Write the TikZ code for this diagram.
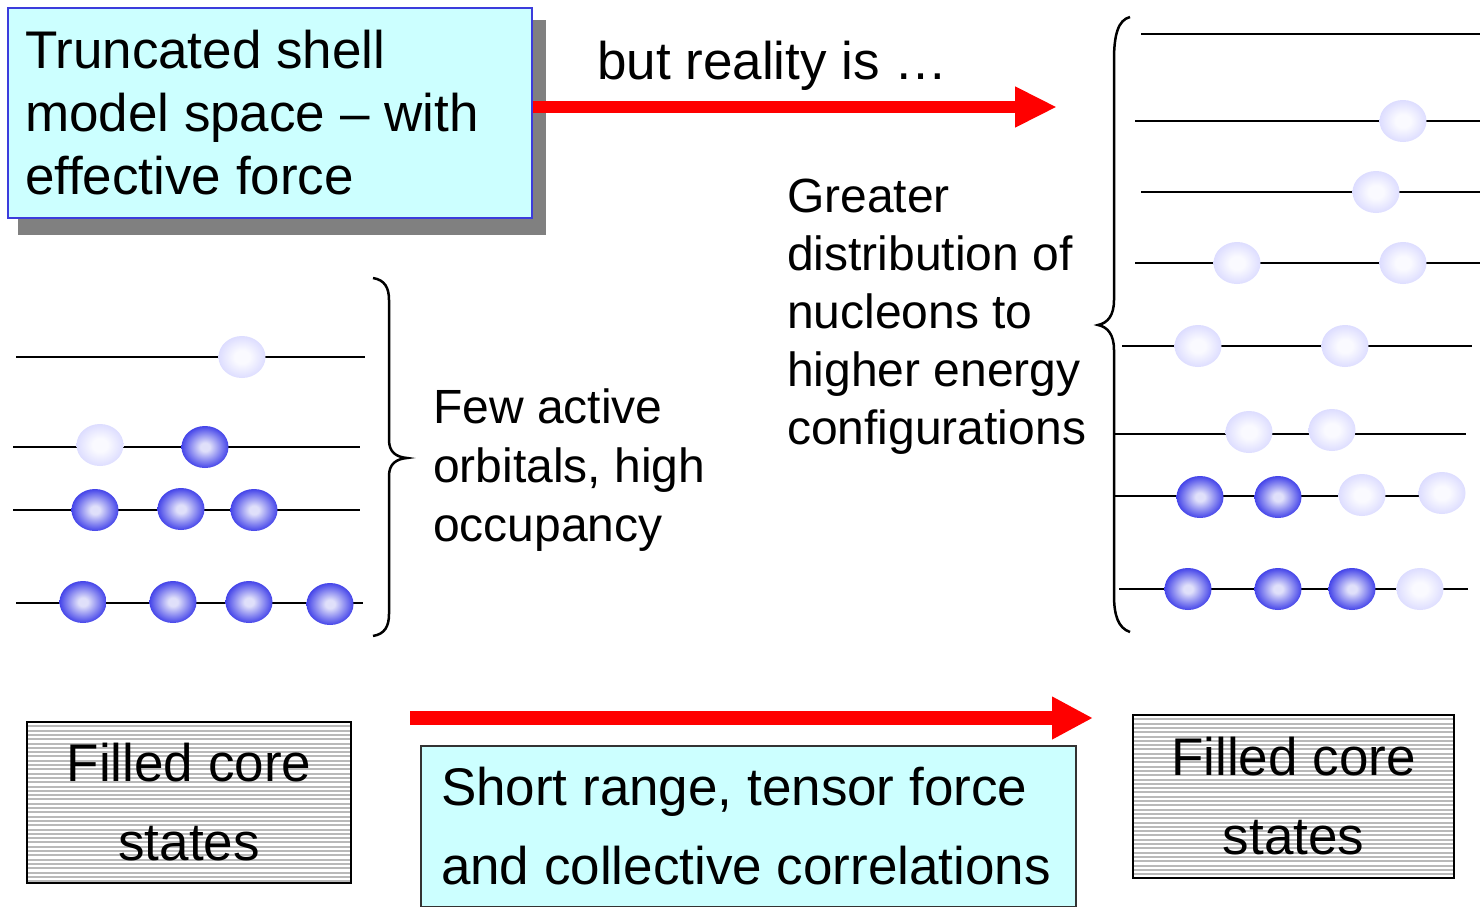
\documentclass[tikz,border=0pt]{standalone}
\usepackage{fontspec}
\setmainfont{Liberation Sans}
\usetikzlibrary{arrows.meta,shapes.geometric}
\definecolor{boxcyan}{RGB}{204,255,255}
\definecolor{boxblue}{RGB}{60,60,220}
\definecolor{shadowgray}{RGB}{128,128,128}
\definecolor{ballin}{RGB}{224,224,250}
\definecolor{ballout}{RGB}{22,22,228}
\definecolor{lightin}{RGB}{250,250,255}
\definecolor{lightout}{RGB}{192,192,255}
\definecolor{arrowred}{RGB}{255,0,0}
\pgfdeclareradialshading{darkballshade}{\pgfpoint{0bp}{0bp}}{color(0bp)=(ballin); color(5bp)=(ballin); color(31bp)=(ballout); color(50bp)=(ballout)}
\pgfdeclareradialshading{lightballshade}{\pgfpoint{0bp}{0bp}}{color(0bp)=(lightin); color(8bp)=(lightin); color(42bp)=(lightout); color(50bp)=(lightout)}
\tikzset{
  level/.style={line width=2.8pt, black},
  dball/.style={ellipse, minimum width=47pt, minimum height=42pt, inner sep=0pt, shading=darkballshade},
  lball/.style={ellipse, minimum width=47pt, minimum height=42pt, inner sep=0pt, shading=lightballshade},
  bracepath/.style={line width=2.5pt, black},
  redarrow/.style={arrowred, line width=12pt, -{Triangle[length=42pt,width=38pt]}},
  plaintext/.style={inner sep=0pt, align=left, anchor=north west},
  corebox/.style={draw=black, line width=2.5pt, inner sep=0pt, align=center,
    font=\fontsize{53}{79}\selectfont,
    path picture={\foreach \k in {0,...,40}
      \draw[gray!55, line width=2pt] ([yshift=-\k*4.3pt]path picture bounding box.north west) -- ([yshift=-\k*4.3pt]path picture bounding box.north east);}},
}
\begin{document}
\begin{tikzpicture}[x=1pt,y=-1pt]
\useasboundingbox (0,0) rectangle (1480,907);
% top-left box with shadow
\fill[shadowgray] (18,20) rectangle (546,235);
\node[draw=boxblue, line width=2pt, fill=boxcyan, anchor=north west, text width=490pt,
  minimum height=210pt, inner xsep=17pt, inner ysep=0pt, align=flush left,
  font=\fontsize{53}{63}\selectfont] (tbox) at (7,7)
  {Truncated shell\\model space – with\\effective force};
% top arrow
\coordinate (topend) at (1057,107);
\draw[redarrow] (tbox.east |- topend) -- (topend);
\node[inner sep=0pt, anchor=base west, font=\fontsize{53}{60}\selectfont] (reality) at (597,80) {but reality is …};
% left levels
\draw[level] (16,357) -- (365,357);
\draw[level] (13,447) -- (360,447);
\draw[level] (13,510) -- (360,510);
\draw[level] (16,603) -- (363,603);
\node[lball] (a1) at (242,357) {};
\node[lball] (b1) at (100,445) {};
\node[dball] (b2) at (205,447) {};
\node[dball] (c1) at (95,510) {};
\node[dball] (c2) at (181,509) {};
\node[dball] (c3) at (254,510) {};
\node[dball] (d1) at (83,602) {};
\node[dball] (d2) at (173,602) {};
\node[dball] (d3) at (249,602) {};
\node[dball] (d4) at (330,604) {};
% left brace
\draw[bracepath] (373,278) .. controls (385,280) and (389,288) .. (389,300) -- (389,440)
  .. controls (389,452) and (396,457) .. (407,458) .. controls (396,459) and (389,464) .. (389,476)
  -- (389,614) .. controls (389,626) and (385,634) .. (373,636);
\node[plaintext, font=\fontsize{48}{59}\selectfont] (few) at (433,389) {Few active\\orbitals, high\\occupancy};
\node[plaintext, font=\fontsize{48}{58}\selectfont] (greater) at (787,179) {Greater\\distribution of\\nucleons to\\higher energy\\configurations};
% right brace
\draw[bracepath] (1130,17) .. controls (1118,20) and (1114,35) .. (1114,60) -- (1114,300)
  .. controls (1114,315) and (1108,323) .. (1098,325) .. controls (1108,327) and (1114,335) .. (1114,350)
  -- (1114,595) .. controls (1114,615) and (1118,628) .. (1130,632);
% right levels
\draw[level] (1141,34) -- (1480,34);
\draw[level] (1135,121) -- (1480,121);
\draw[level] (1141,192) -- (1480,192);
\draw[level] (1135,263) -- (1480,263);
\draw[level] (1122,346) -- (1472,346);
\draw[level] (1115,434) -- (1466,434);
\draw[level] (1115,496) -- (1440,496);
\draw[level] (1119,589) -- (1468,589);
\node[lball] (r1) at (1403,121) {};
\node[lball] (r2) at (1376,192) {};
\node[lball] (r3) at (1237,263) {};
\node[lball] (r4) at (1403,263) {};
\node[lball] (r5) at (1198,346) {};
\node[lball] (r6) at (1345,346) {};
\node[lball] (r7) at (1249,432) {};
\node[lball] (r8) at (1332,430) {};
\node[dball] (r9) at (1200,497) {};
\node[dball] (r10) at (1278,497) {};
\node[lball] (r11) at (1362,495) {};
\node[lball] (r12) at (1442,493) {};
\node[dball] (r13) at (1188,589) {};
\node[dball] (r14) at (1278,589) {};
\node[dball] (r15) at (1352,589) {};
\node[lball] (r16) at (1420,589) {};
% bottom arrow
\coordinate (botstart) at (410,718);
\coordinate (botend) at (1093,718);
\draw[arrowred, line width=14pt, -{Triangle[length=41pt,width=40pt]}] (botstart) -- (botend);
% core boxes
\node[corebox, minimum width=324pt, minimum height=161pt] (coreL) at (189,802.5) {Filled core\\states};
\node[corebox, minimum width=321pt, minimum height=163pt] (coreR) at (1293.5,796.5) {Filled core\\states};
% bottom cyan box
\node[draw=black!80, line width=1.5pt, fill=boxcyan, text width=635pt, inner xsep=10pt, inner ysep=0pt,
  minimum height=161pt, align=flush left, font=\fontsize{53}{79}\selectfont] (short) at (748.5,826.5)
  {\hspace*{10pt}Short range, tensor force\\\hspace*{10pt}and collective correlations};
\end{tikzpicture}
\end{document}
